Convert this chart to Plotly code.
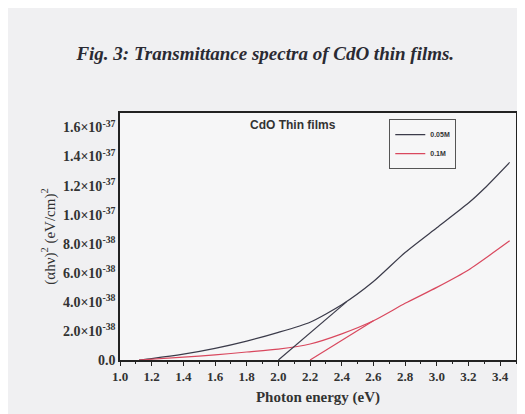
import plotly.graph_objects as go

# 0.05M film
x_005 = [1.12, 1.2, 1.4, 1.6, 1.8, 2.0, 2.2, 2.4, 2.6, 2.8, 3.0, 3.2, 3.3, 3.46]
y_005 = [0.0, 0.1e-38, 0.4e-38, 0.8e-38, 1.3e-38, 1.9e-38, 2.6e-38, 3.8e-38,
         5.4e-38, 7.4e-38, 9.1e-38, 10.8e-38, 11.8e-38, 13.6e-38]

# 0.1M film
x_01 = [1.12, 1.4, 1.6, 1.8, 2.0, 2.2, 2.4, 2.6, 2.8, 3.0, 3.2, 3.46]
y_01 = [0.0, 0.2e-38, 0.35e-38, 0.55e-38, 0.75e-38, 1.1e-38, 1.8e-38, 2.7e-38,
        3.9e-38, 5.0e-38, 6.2e-38, 8.2e-38]

# band-gap extrapolation lines
tan_005_x = [2.0, 2.43]
tan_005_y = [0.0, 4.0e-38]
tan_01_x = [2.2, 2.6]
tan_01_y = [0.0, 2.7e-38]

x_ticks = [1.0, 1.2, 1.4, 1.6, 1.8, 2.0, 2.2, 2.4, 2.6, 2.8, 3.0, 3.2, 3.4]
y_ticks = [0, 2e-38, 4e-38, 6e-38, 8e-38, 1.0e-37, 1.2e-37, 1.4e-37, 1.6e-37]
y_labels = ["0.0", "2.0×10<sup>-38</sup>", "4.0×10<sup>-38</sup>", "6.0×10<sup>-38</sup>",
            "8.0×10<sup>-38</sup>", "1.0×10<sup>-37</sup>", "1.2×10<sup>-37</sup>",
            "1.4×10<sup>-37</sup>", "1.6×10<sup>-37</sup>"]

black = "#3b3b4a"
red = "#d9485e"
serif = "Liberation Serif, Times New Roman, serif"

fig = go.Figure()

fig.add_trace(go.Scatter(x=x_005, y=y_005, mode="lines", name="0.05M",
                         line=dict(color=black, width=1.2, shape="spline", smoothing=0.6)))
fig.add_trace(go.Scatter(x=x_01, y=y_01, mode="lines", name="0.1M",
                         line=dict(color=red, width=1.2, shape="spline", smoothing=0.6)))
fig.add_trace(go.Scatter(x=tan_005_x, y=tan_005_y, mode="lines", showlegend=False,
                         line=dict(color=black, width=1.2)))
fig.add_trace(go.Scatter(x=tan_01_x, y=tan_01_y, mode="lines", showlegend=False,
                         line=dict(color=red, width=1.2)))

fig.add_annotation(x=2.09, y=1.615e-37, text="<b>CdO Thin films</b>", showarrow=False,
                   font=dict(family="Liberation Sans, Arial", size=12, color="#333"))

fig.update_layout(
    width=525,
    height=414,
    margin=dict(l=112, r=17, t=105, b=62),
    paper_bgcolor="#f0f0f2",
    plot_bgcolor="#f6f6f7",
    title=dict(text="<b><i>Fig. 3: Transmittance spectra of CdO thin films.</i></b>",
               x=0.49, xanchor="center", y=0.89, yanchor="middle",
               font=dict(family=serif, size=19, color="#2a2a33")),
    legend=dict(x=0.68, y=0.975, xanchor="left", yanchor="top",
                bgcolor="rgba(255,255,255,0)", bordercolor="#555", borderwidth=1,
                font=dict(family="Liberation Sans, Arial", size=7, color="#333",
                          weight="bold"),
                itemwidth=30, tracegroupgap=0),
    showlegend=True,
)

fig.update_xaxes(
    range=[1.0, 3.5], tickvals=x_ticks, ticktext=[f"{v:.1f}" for v in x_ticks],
    showgrid=False, zeroline=False, showline=True, linecolor="#222", linewidth=1.5,
    mirror=True, ticks="outside", ticklen=4, tickcolor="#222",
    minor=dict(dtick=0.1, ticks="outside", ticklen=2, tickcolor="#222"),
    tickfont=dict(family=serif, size=13, color="#333", weight="bold"),
    title=dict(text="<b>Photon energy (eV)</b>", standoff=8,
               font=dict(family=serif, size=15, color="#333")),
)
fig.update_yaxes(
    range=[0, 1.7e-37], tickvals=y_ticks, ticktext=y_labels,
    showgrid=False, zeroline=False, showline=True, linecolor="#222", linewidth=1.5,
    mirror=True, ticks="", tickfont=dict(family=serif, size=14, color="#333", weight="bold"),
    title=dict(text="(αhν)<sup>2</sup> (eV/cm)<sup>2</sup>", standoff=4,
               font=dict(family=serif, size=15, color="#333")),
)

fig.write_html("out.html")
